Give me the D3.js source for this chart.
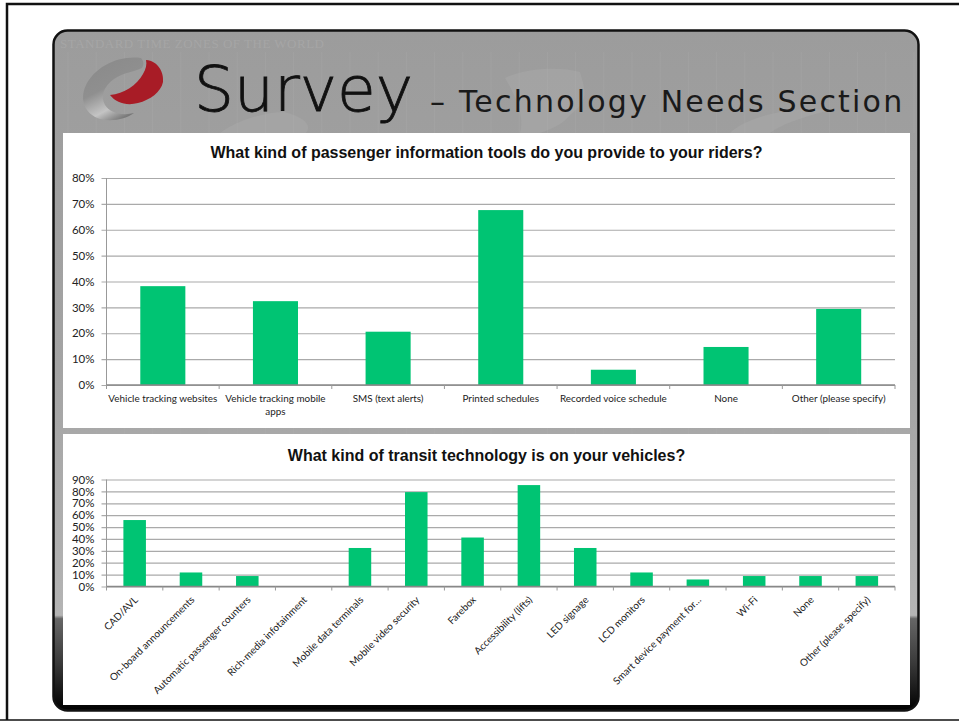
<!DOCTYPE html>
<html><head><meta charset="utf-8">
<script src="https://cdn.jsdelivr.net/npm/d3@7"></script>
<style>
html,body{margin:0;padding:0;background:#fff;overflow:hidden}
svg{display:block}
.tick text{fill:#222}
</style></head><body>
<svg id="c" width="959" height="721"></svg>
<script>
const cats1 = ["Vehicle tracking websites","Vehicle tracking mobile apps","SMS (text alerts)","Printed schedules","Recorded voice schedule","None","Other (please specify)"];
const vals1 = [38.2,32.4,20.6,67.6,5.9,14.7,29.4];
const ticks1 = [0,10,20,30,40,50,60,70,80];
const title1 = "What kind of passenger information tools do you provide to your riders?";
const cats2 = ["CAD/AVL","On-board announcements","Automatic passenger counters","Rich-media infotainment","Mobile data terminals","Mobile video security","Farebox","Accessibility (lifts)","LED signage","LCD monitors","Smart device payment for…","Wi-Fi","None","Other (please specify)"];
const vals2 = [55.9,11.8,8.8,0,32.4,79.4,41.2,85.3,32.4,11.8,5.9,8.8,8.8,8.8];
const ticks2 = [0,10,20,30,40,50,60,70,80,90];
const title2 = "What kind of transit technology is on your vehicles?";
const GREEN = "#00c473";

const svg = d3.select("#c");
const defs = svg.append("defs");
const bg = defs.append("linearGradient").attr("id","bg").attr("x1",0).attr("x2",0).attr("y1",0).attr("y2",1);
[[0,"#9c9c9c"],[0.5,"#a4a4a4"],[0.86,"#b4b4b4"],[0.865,"#666"],[0.93,"#3a3a3a"],[1,"#000"]]
  .forEach(([o,c])=>bg.append("stop").attr("offset",o).attr("stop-color",c));
const gr = defs.append("linearGradient").attr("id","logoG").attr("x1",0.2).attr("x2",0.7).attr("y1",0).attr("y2",1);
[[0,"#8a8a8a"],[0.45,"#8f8f8f"],[0.75,"#c4c4c4"],[1,"#6a6a6a"]].forEach(([o,c])=>gr.append("stop").attr("offset",o).attr("stop-color",c));

// frame
svg.append("path").attr("d","M7 720V4H959").attr("fill","none").attr("stroke","#111").attr("stroke-width",2.5);
svg.append("path").attr("d","M0 720H959").attr("stroke","#111").attr("stroke-width",1.5);
svg.append("rect").attr("x",53.5).attr("y",30.5).attr("width",865).attr("height",680).attr("rx",14)
  .attr("fill","url(#bg)").attr("stroke","#111").attr("stroke-width",2.5);

// faint map backdrop
const map = svg.append("g").attr("fill","#adadad").attr("opacity",.4);
map.append("text").attr("x",60).attr("y",48).attr("font-family","Liberation Serif").attr("font-size",13).attr("letter-spacing",.5)
  .attr("fill","#b4b4b4").text("STANDARD TIME ZONES OF THE WORLD");
map.append("path").attr("d","M220 133C235 122 262 112 285 112C305 118 312 125 306 133Z");
map.append("path").attr("d","M505 78C525 68 560 66 580 72C585 90 590 100 570 115C565 122 555 128 540 133H520C525 115 515 95 505 78Z");
map.append("path").attr("d","M730 133C745 118 790 105 830 110C800 118 780 125 770 133Z");
const grid = svg.append("g").attr("stroke","#b5b5b5").attr("stroke-width",.6).attr("opacity",.35);
d3.range(68,915,28.2).forEach(x=>grid.append("line").attr("x1",x).attr("x2",x).attr("y1",52).attr("y2",133));
d3.range(68,915,28.2).forEach(x=>grid.append("line").attr("x1",x).attr("x2",x).attr("y1",428).attr("y2",434));

// logo
svg.append("path").attr("fill","url(#logoG)")
  .attr("d","M141 58C118 55 95 67 86 85C79 100 85 114 100 119C112 122 126 119 134 113C122 116 110 113 105 105C100 96 104 86 114 79C124 72 134 72 142 68C144 65 144 61 141 58Z");
svg.append("path").attr("fill","#a81c26")
  .attr("d","M146 60C158 61 164 72 163 82C161 92 150 100 138 103C127 106 116 103 110 95C124 94 137 85 143 74C146 69 147 64 146 60Z");

// headings
svg.append("text").attr("x",194).attr("y",111).attr("font-family","DejaVu Sans").attr("font-weight",200)
  .attr("font-size",63).attr("fill","#111").attr("stroke","#111").attr("stroke-width",.8).text("Survey");
svg.append("text").attr("x",430).attr("y",112).attr("font-family","DejaVu Sans").attr("font-size",30).attr("fill","#1a1a1a")
  .attr("letter-spacing",2.2).text("– Technology Needs Section");

// white chart panels
svg.append("rect").attr("x",63).attr("y",133).attr("width",847).attr("height",295).attr("fill","#fff");
svg.append("rect").attr("x",63).attr("y",434).attr("width",847).attr("height",271).attr("fill","#fff");

function chart(cfg){
  const x = d3.scaleBand().domain(cfg.cats).range([106.5,895]).paddingInner(cfg.pad).paddingOuter(cfg.pad/2);
  const y = d3.scaleLinear().domain([0,d3.max(cfg.ticks)]).range([cfg.y0,cfg.y1]);
  const g = svg.append("g");
  g.append("text").attr("x",486.5).attr("y",cfg.ty).attr("text-anchor","middle")
    .attr("font-family","Liberation Sans").attr("font-weight",700).attr("font-size",16).attr("fill","#111").text(cfg.title);
  // gridlines
  const ga = g.append("g").attr("transform","translate(106.5,0)")
    .call(d3.axisLeft(y).tickValues(cfg.ticks).tickSize(5).tickSizeInner(-788.5).tickFormat(d=>d+"%"));
  ga.select(".domain").remove();
  ga.selectAll("line").attr("stroke","#aaa").attr("stroke-width",1.2).attr("x1",-5);
  ga.selectAll("text").attr("x",-12).attr("font-family","Lato").attr("font-size",11.5);
  g.append("line").attr("x1",106.5).attr("x2",106.5).attr("y1",cfg.y1).attr("y2",cfg.y0).attr("stroke","#999");
  // bars
  g.selectAll("rect.b").data(cfg.cats).join("rect").attr("class","b")
    .attr("x",d=>x(d)).attr("width",x.bandwidth())
    .attr("y",(d,i)=>y(cfg.vals[i])).attr("height",(d,i)=>cfg.y0-y(cfg.vals[i])).attr("fill",GREEN);
  // category axis
  const band = x.step();
  const gb = g.append("g").attr("transform",`translate(0,${cfg.y0})`)
    .call(d3.axisBottom(x).tickSize(0).tickPadding(0));
  gb.select(".domain").remove();
  g.append("line").attr("x1",106.5).attr("x2",895).attr("y1",cfg.y0).attr("y2",cfg.y0).attr("stroke","#888").attr("stroke-width",1.4);
  g.selectAll("line.t").data(d3.range(cfg.cats.length+1)).join("line").attr("class","t")
    .attr("x1",i=>106.5+i*band).attr("x2",i=>106.5+i*band).attr("y1",cfg.y0).attr("y2",cfg.y0+4).attr("stroke","#999");
  cfg.labels(gb,x);
}

chart({cats:cats1,vals:vals1,ticks:ticks1,title:title1,ty:158,y0:385,y1:178,pad:0.6,
  labels(gb){
    gb.selectAll("text").attr("font-family","Lato").attr("font-size",9.9).each(function(d){
      const t=d3.select(this); t.text(null).attr("y",0);
      const lines = d==="Vehicle tracking mobile apps"?["Vehicle tracking mobile","apps"]:[d];
      lines.forEach((l,i)=>t.append("tspan").attr("x",0).attr("y",17+i*13).attr("dy",0).text(l));
    });
  }});
chart({cats:cats2,vals:vals2,ticks:ticks2,title:title2,ty:461,y0:586.5,y1:479.5,pad:0.6,
  labels(gb){
    gb.selectAll("text").attr("font-family","Lato").attr("font-size",10)
      .attr("text-anchor","end").attr("dy",0).attr("y",0)
      .attr("transform","translate(4,14) rotate(-45)");
  }});
</script></body></html>
